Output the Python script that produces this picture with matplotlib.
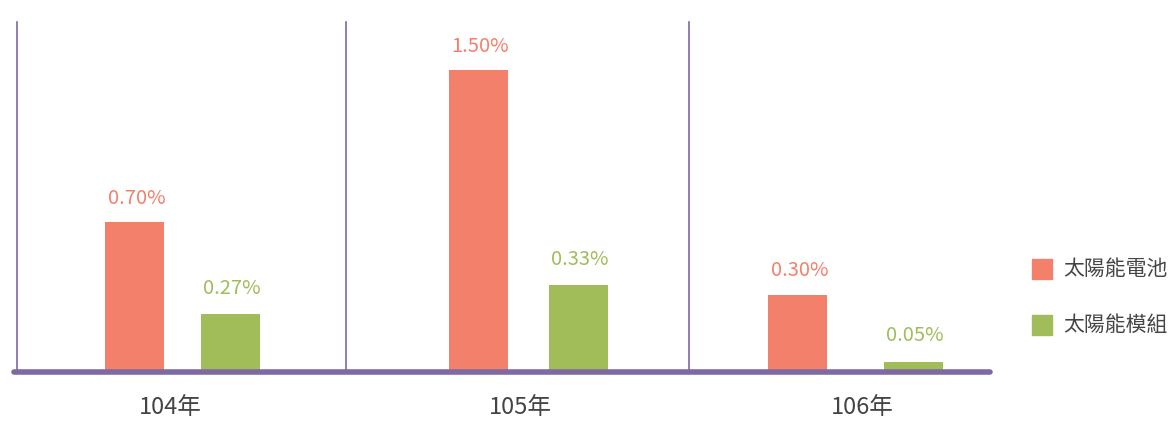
import matplotlib.pyplot as plt

plt.rcParams['font.family'] = ['Noto Sans CJK TC', 'DejaVu Sans']

# data
years = ['104年', '105年', '106年']
cell_vals = [0.745, 1.50, 0.383]      # 太陽能電池 (bar heights as drawn)
module_vals = [0.288, 0.432, 0.05]    # 太陽能模組
cell_labels = ['0.70%', '1.50%', '0.30%']
module_labels = ['0.27%', '0.33%', '0.05%']
series_names = ['太陽能電池', '太陽能模組']

RED = '#F3806B'
GREEN = '#A0BD5A'
PURPLE = '#7E69A2'
GRAY = '#444444'

# layout in pixel units along x
cell_x = [134.5, 478.5, 797.5]
module_x = [230.5, 578.5, 913.5]
year_x = [170, 520, 862]
sep_x = [17, 346, 689]
bar_w = 59
px = 201.3  # pixels per 1 %

fig = plt.figure(figsize=(11.76, 4.25), dpi=100)
ax = fig.add_axes([0, 0, 1, 1])
ax.set_xlim(0, 1176)
ax.set_ylim(-53 / px, (425 - 53) / px)
ax.axis('off')

ax.bar(cell_x, cell_vals, width=bar_w, color=RED, zorder=2)
ax.bar(module_x, module_vals, width=bar_w, color=GREEN, zorder=2)

for x in sep_x:
    ax.plot([x, x], [0, 350 / px], color=PURPLE, lw=1.2, zorder=1)
ax.plot([14, 990], [0, 0], color=PURPLE, lw=4, solid_capstyle='round', zorder=3)

for x, v, t in zip(cell_x, cell_vals, cell_labels):
    ax.annotate(t, (x + 2, v), xytext=(0, 24), textcoords='offset pixels',
                ha='center', va='center', color=RED, fontsize=14.5,
                fontweight='light')
for x, v, t in zip(module_x, module_vals, module_labels):
    ax.annotate(t, (x + 1, v), xytext=(0, 26), textcoords='offset pixels',
                ha='center', va='center', color=GREEN, fontsize=14.5,
                fontweight='light')

for x, t in zip(year_x, years):
    ax.text(x, -35 / px, t, ha='center', va='center', color=GRAY,
            fontsize=17, fontweight='light')

# legend
for i, (name, c) in enumerate(zip(series_names, [RED, GREEN])):
    yc = (425 - 53 - 269 - i * 56) / px
    ax.add_patch(plt.Rectangle((1032, yc - 10 / px), 20, 20 / px, color=c))
    ax.text(1063, yc, name, ha='left', va='center', color=GRAY,
            fontsize=15, fontweight='light')

fig.savefig('out.png', dpi=100)
